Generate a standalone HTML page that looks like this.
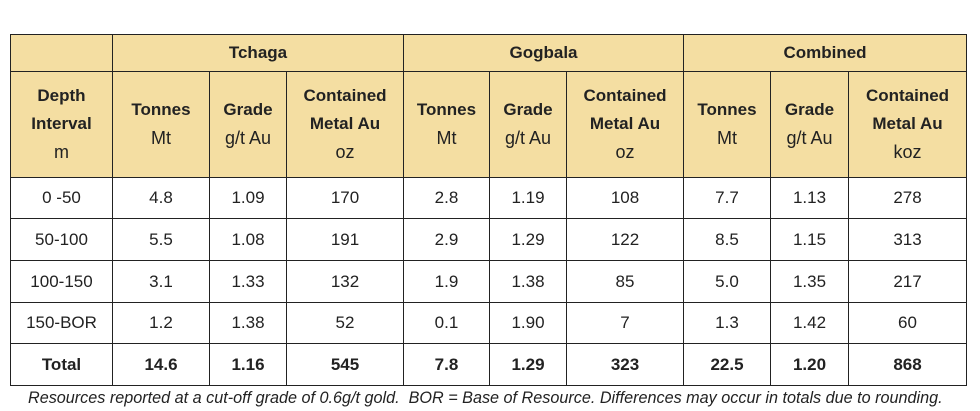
<!DOCTYPE html>
<html><head><meta charset="utf-8"><style>
body{margin:0;width:980px;height:411px;background:#fff;font-family:"Liberation Sans",sans-serif;position:relative;overflow:hidden}
table{position:absolute;left:10px;top:34px;border-collapse:collapse;table-layout:fixed;color:#222}
td{border:1.5px solid #222;text-align:center;padding:0;font-size:17px}
.h{background:#f4dea2;font-weight:bold;font-size:19px}
.h span{font-weight:normal;font-size:18px}
.t td{font-weight:bold}
.foot{position:absolute;left:28px;top:389px;font-style:italic;font-size:16.2px;color:#222;white-space:nowrap}
</style></head><body>
<table>
<colgroup><col style="width:102px"><col style="width:97px"><col style="width:77px"><col style="width:117px"><col style="width:86px"><col style="width:77px"><col style="width:117px"><col style="width:87px"><col style="width:78px"><col style="width:118px"></colgroup>
<tr class="h" style="height:37px"><td></td><td colspan="3">Tchaga</td><td colspan="3">Gogbala</td><td colspan="3">Combined</td></tr>
<tr class="h" style="height:106px;line-height:28px"><td>Depth<br>Interval<br><span>m</span></td><td>Tonnes<br><span>Mt</span></td><td>Grade<br><span>g/t Au</span></td><td>Contained<br>Metal Au<br><span>oz</span></td><td>Tonnes<br><span>Mt</span></td><td>Grade<br><span>g/t Au</span></td><td>Contained<br>Metal Au<br><span>oz</span></td><td>Tonnes<br><span>Mt</span></td><td>Grade<br><span>g/t Au</span></td><td>Contained<br>Metal Au<br><span>koz</span></td></tr>
<tr style="height:41px"><td>0 -50</td><td>4.8</td><td>1.09</td><td>170</td><td>2.8</td><td>1.19</td><td>108</td><td>7.7</td><td>1.13</td><td>278</td></tr>
<tr style="height:42px"><td>50-100</td><td>5.5</td><td>1.08</td><td>191</td><td>2.9</td><td>1.29</td><td>122</td><td>8.5</td><td>1.15</td><td>313</td></tr>
<tr style="height:42px"><td>100-150</td><td>3.1</td><td>1.33</td><td>132</td><td>1.9</td><td>1.38</td><td>85</td><td>5.0</td><td>1.35</td><td>217</td></tr>
<tr style="height:41px"><td>150-BOR</td><td>1.2</td><td>1.38</td><td>52</td><td>0.1</td><td>1.90</td><td>7</td><td>1.3</td><td>1.42</td><td>60</td></tr>
<tr class="t" style="height:42px"><td>Total</td><td>14.6</td><td>1.16</td><td>545</td><td>7.8</td><td>1.29</td><td>323</td><td>22.5</td><td>1.20</td><td>868</td></tr>
</table>
<div class="foot">Resources reported at a cut-off grade of 0.6g/t gold.&nbsp; BOR = Base of Resource. Differences may occur in totals due to rounding.</div>
</body></html>
